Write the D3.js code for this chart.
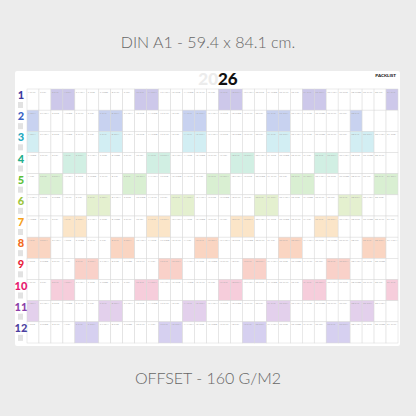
<!DOCTYPE html>
<html><head><meta charset="utf-8">
<script src="https://cdn.jsdelivr.net/npm/d3@7"></script>
<style>body{margin:0;background:#ececec}</style></head>
<body><svg id="c" width="416" height="416"></svg>
<script>
var year = 2026;
var months = [1,2,3,4,5,6,7,8,9,10,11,12];
var dayNames = ["SUN","MON","TUE","WED","THU","FRI","SAT"];
var fills = ["#cdc8ea","#c8d2f0","#d2eef3","#d1efe3","#d9efd2","#e4f0cf","#fbe5c8","#fad5c2","#f9d1c9","#f6cddb","#e3d0ec","#d6d0f0"];
var inks = ["#3d3aa0","#3a62c4","#22a9c0","#1fae8a","#5fbf3a","#9cc53a","#f5a21c","#f26a1b","#e8243a","#e6176e","#8b3fa8","#4b3fa0"];

var svg = d3.select("#c");
svg.append("rect").attr("width",416).attr("height",416).attr("fill","#ececec");
svg.append("text").attr("x",208).attr("y",48).attr("text-anchor","middle")
  .attr("font-family","Lato").attr("font-weight",300).attr("font-size",16).attr("fill","#666")
  .text("DIN A1 - 59.4 x 84.1 cm.");
svg.append("text").attr("x",208).attr("y",384).attr("text-anchor","middle")
  .attr("font-family","Lato").attr("font-weight",300).attr("font-size",16).attr("fill","#666")
  .text("OFFSET - 160 G/M2");

svg.append("rect").attr("x",15).attr("y",71).attr("width",385).attr("height",275).attr("rx",2).attr("fill","#fff");

var t = svg.append("text").attr("x",218).attr("y",85).attr("text-anchor","middle")
  .attr("font-family","Lato").attr("font-weight",900).attr("font-size",17);
t.append("tspan").attr("fill","#ececec").text("20");
t.append("tspan").attr("fill","#111").text("26");
svg.append("text").attr("x",396).attr("y",77).attr("text-anchor","end")
  .attr("font-family","Lato").attr("font-weight",900).attr("font-size",4.5).attr("fill","#222").text("PACKLIST");

var x = d3.scaleBand().domain(d3.range(1,32)).range([27,398]);
var y = d3.scaleBand().domain(months).range([89,343]);

months.forEach(function(m, i){
  var g = svg.append("g");
  var n = new Date(year, m, 0).getDate();
  d3.range(1,32).forEach(function(d){
    var ok = d <= n;
    var wd = ok ? new Date(year, m-1, d).getDay() : -1;
    g.append("rect").attr("x",x(d)).attr("y",y(m)).attr("width",x.bandwidth()).attr("height",y.bandwidth())
      .attr("fill", (wd==0||wd==6) ? fills[i] : "#fff")
      .attr("stroke","#d8d8d8").attr("stroke-width",0.5);
    if (ok) g.append("text").attr("x",x(d)+1).attr("y",y(m)+3.5)
      .attr("font-family","Lato").attr("font-size",2.6).attr("fill","#aaa")
      .text(d+" "+dayNames[wd]);
  });
  svg.append("text").attr("x",21).attr("y",y(m)+10).attr("text-anchor","middle")
    .attr("font-family","Lato").attr("font-weight",900).attr("font-size",11).attr("fill",inks[i]).text(m);
  svg.append("rect").attr("x",18).attr("y",y(m)+13).attr("width",5).attr("height",6).attr("fill","#e2e2e2");
});
</script></body></html>
